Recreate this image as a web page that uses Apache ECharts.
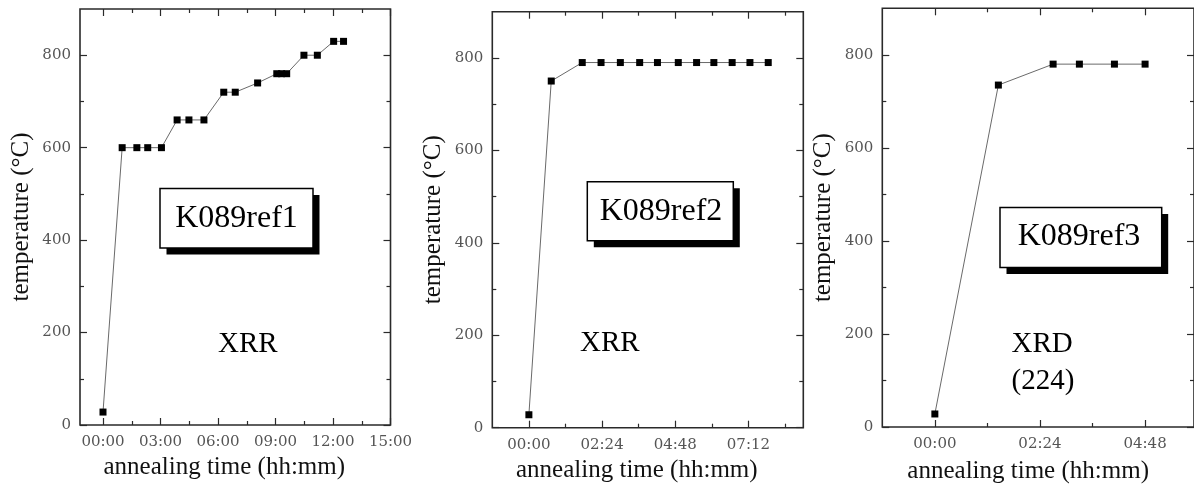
<!DOCTYPE html>
<html>
<head>
<meta charset="utf-8">
<script src="https://cdn.jsdelivr.net/npm/echarts@6/dist/echarts.min.js"></script>
<style>
  html, body { margin: 0; padding: 0; background: #fff; }
  #chart { width: 1194px; height: 489px; }
</style>
</head>
<body>
<div id="chart"></div>
<script>
// Annealing temperature profiles of three samples (time as hh:mm, temperature in °C)
const ref1Times = ['00:00','01:00','01:46','02:20','03:03','03:52','04:29','05:16','06:18','06:54','08:04','09:04','09:19','09:35','10:29','11:11','12:02','12:33'];
const ref1Temps = [28,600,600,600,600,660,660,660,720,720,740,760,760,760,800,800,830,830];

const ref2Times = ['00:00','00:44','01:45','02:22','03:00','03:38','04:13','04:54','05:30','06:04','06:40','07:15','07:51'];
const ref2Temps = [28,750,790,790,790,790,790,790,790,790,790,790,790];

const ref3Times = ['00:00','01:27','02:42','03:18','04:06','04:48'];
const ref3Temps = [28,735,780,780,780,780];

// Tick labels
const ref1TimeTicks = ['00:00','03:00','06:00','09:00','12:00','15:00'];
const ref2TimeTicks = ['00:00','02:24','04:48','07:12'];
const ref3TimeTicks = ['00:00','02:24','04:48'];
const tempTicks = ['0','200','400','600','800'];

const toMin = s => { const [h, m] = s.split(':').map(Number); return h * 60 + m; };
const toHHMM = v => {
  const h = Math.floor(v / 60), m = Math.round(v - h * 60);
  return String(h).padStart(2, '0') + ':' + String(m).padStart(2, '0');
};

const TICK_FONT = 'DejaVu Serif';
const TITLE_FONT = 'Liberation Serif';
const FRAME = '#2a2a2a';

// midpoints between major ticks (plus one beyond the last, if inside the range)
function minorOf(major, max) {
  const step = major[1] - major[0];
  return major.map(v => v + step / 2).filter(v => v < max);
}

const panels = [
  { times: ref1Times, temps: ref1Temps, xTicks: ref1TimeTicks, grid: { left: 80, top: 9, width: 310.5, height: 416 }, xMax: 900, namePad: 22, xNameGap: 24 },
  { times: ref2Times, temps: ref2Temps, xTicks: ref2TimeTicks, grid: { left: 492.3, top: 11.7, width: 311, height: 416 }, xMax: 540, namePad: 22, xNameGap: 30 },
  { times: ref3Times, temps: ref3Temps, xTicks: ref3TimeTicks, grid: { left: 882.3, top: 8.3, width: 312.7, height: 421.7 }, xMax: 355, namePad: 20, xNameGap: 32 }
];

const grids = [], xAxes = [], yAxes = [], series = [];

panels.forEach((p, gi) => {
  grids.push(Object.assign({ show: true, borderColor: FRAME, borderWidth: 1.6, backgroundColor: 'transparent', containLabel: false }, p.grid));

  const xMajor = p.xTicks.map(toMin);
  const xMinor = minorOf(xMajor, p.xMax);
  const yMajor = tempTicks.map(Number);
  const yMinor = minorOf(yMajor, 900);

  const tickLine = { color: FRAME, width: 1.2 };
  const noLine = { show: false, onZero: false };
  const baseX = { type: 'value', gridIndex: gi, min: -72, max: p.xMax, splitLine: { show: false }, axisLine: noLine };
  const baseY = { type: 'value', gridIndex: gi, min: 0, max: 900, splitLine: { show: false }, axisLine: noLine };

  const xStart = xAxes.length;
  // bottom axis: major ticks, labels and title
  xAxes.push(Object.assign({}, baseX, {
    position: 'bottom',
    axisTick: { show: true, inside: true, length: 7, lineStyle: tickLine, customValues: xMajor },
    axisLabel: { show: true, customValues: xMajor, formatter: v => toHHMM(v), margin: 10,
      fontFamily: TICK_FONT, fontSize: 15, color: '#555' },
    name: 'annealing time (hh:mm)', nameLocation: 'middle', nameGap: p.xNameGap,
    nameTextStyle: { fontFamily: TITLE_FONT, fontSize: 25, color: '#111', padding: [0, p.namePad, 0, 0] }
  }));
  // bottom minor ticks
  xAxes.push(Object.assign({}, baseX, { position: 'bottom',
    axisTick: { show: true, inside: true, length: 4, lineStyle: tickLine, customValues: xMinor },
    axisLabel: { show: false } }));
  // top mirror ticks
  xAxes.push(Object.assign({}, baseX, { position: 'top',
    axisTick: { show: true, inside: true, length: 7, lineStyle: tickLine, customValues: xMajor },
    axisLabel: { show: false } }));
  xAxes.push(Object.assign({}, baseX, { position: 'top',
    axisTick: { show: true, inside: true, length: 4, lineStyle: tickLine, customValues: xMinor },
    axisLabel: { show: false } }));

  const yStart = yAxes.length;
  yAxes.push(Object.assign({}, baseY, {
    position: 'left',
    axisTick: { show: true, inside: true, length: 7, lineStyle: tickLine, customValues: yMajor },
    axisLabel: { show: true, customValues: yMajor, margin: 9,
      fontFamily: TICK_FONT, fontSize: 15, color: '#555' },
    name: 'temperature (°C)', nameLocation: 'middle', nameGap: 46,
    nameTextStyle: { fontFamily: TITLE_FONT, fontSize: 25, color: '#111' }
  }));
  yAxes.push(Object.assign({}, baseY, { position: 'left',
    axisTick: { show: true, inside: true, length: 4, lineStyle: tickLine, customValues: yMinor },
    axisLabel: { show: false } }));
  yAxes.push(Object.assign({}, baseY, { position: 'right',
    axisTick: { show: true, inside: true, length: 7, lineStyle: tickLine, customValues: yMajor },
    axisLabel: { show: false } }));
  yAxes.push(Object.assign({}, baseY, { position: 'right',
    axisTick: { show: true, inside: true, length: 4, lineStyle: tickLine, customValues: yMinor },
    axisLabel: { show: false } }));

  series.push({
    type: 'line',
    xAxisIndex: xStart,
    yAxisIndex: yStart,
    data: p.times.map((t, i) => [toMin(t), p.temps[i]]),
    symbol: 'rect',
    symbolSize: 7,
    showSymbol: true,
    itemStyle: { color: '#000' },
    lineStyle: { color: '#6a6a6a', width: 1 },
    animation: false,
    z: 3
  });
});

// sample tag boxes with drop shadow, and measurement notes
function tag(x, y, w, h, text, cx, cy) {
  return [
    { type: 'rect', shape: { x: x + 6.5, y: y + 6.5, width: w, height: h }, style: { fill: '#000' }, z: 10 },
    { type: 'rect', shape: { x: x, y: y, width: w, height: h }, style: { fill: '#fff', stroke: '#000', lineWidth: 1.5 }, z: 11 },
    { type: 'text', x: cx, y: cy, style: { text: text, fontFamily: TITLE_FONT, fontSize: 32, fill: '#000', align: 'center', verticalAlign: 'middle' }, z: 12 }
  ];
}
function note(x, y, text) {
  return { type: 'text', x: x, y: y, style: { text: text, fontFamily: TITLE_FONT, fontSize: 29, fill: '#000', align: 'left', verticalAlign: 'middle' }, z: 12 };
}

const graphic = [].concat(
  tag(160, 188.5, 153, 59.5, 'K089ref1', 236.5, 218.5),
  tag(587.3, 181.7, 146, 59, 'K089ref2', 661, 211.5),
  tag(1000, 207.5, 161.7, 60, 'K089ref3', 1079, 237),
  [note(218, 344.5, 'XRR'), note(580, 343.5, 'XRR'), note(1011.5, 344.5, 'XRD'), note(1011.5, 381, '(224)')]
);

const chart = echarts.init(document.getElementById('chart'), null, { renderer: 'canvas' });
chart.setOption({
  animation: false,
  backgroundColor: '#fff',
  grid: grids,
  xAxis: xAxes,
  yAxis: yAxes,
  series: series,
  graphic: graphic
});
</script>
</body>
</html>
